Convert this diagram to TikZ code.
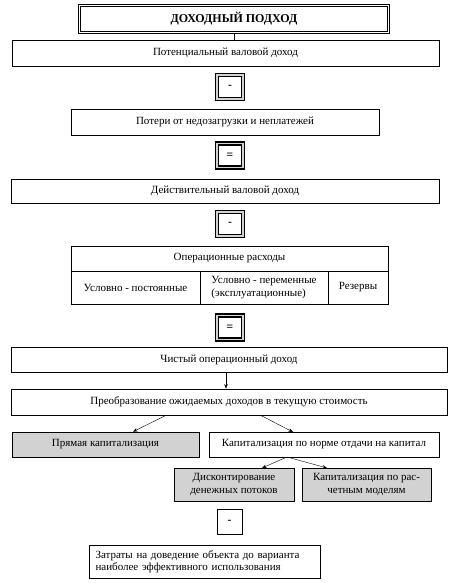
\documentclass[tikz,border=0pt]{standalone}
\usepackage{fontspec}
\setmainfont{Liberation Serif}
\usetikzlibrary{arrows.meta,shadows}
\begin{document}
\begin{tikzpicture}[x=1pt,y=-1pt,
  every node/.style={font=\fontsize{11}{12.5}\selectfont},
  box/.style={draw, line width=0.7pt, fill=white, inner sep=0pt,
    drop shadow={shadow xshift=1pt, shadow yshift=-1pt, fill=gray!60, opacity=1}},
  graybox/.style={box, fill=gray!35},
  opbox/.style={draw=black, line width=1.7pt, double=gray!35, double distance=1.2pt,
    fill=white, minimum width=26pt, minimum height=24pt, inner sep=0pt, font=\fontsize{11.5}{12}\selectfont\bfseries},
  thinop/.style={draw, line width=0.7pt, minimum width=25pt, minimum height=25pt, inner sep=0pt, font=\fontsize{11.5}{12}\selectfont\bfseries},
  cell/.style={draw, line width=0.7pt, inner sep=0pt, align=center},
  arr/.style={-{Stealth[length=4.5pt,width=3.5pt]}, line width=0.4pt}
]
\useasboundingbox (0,0) rectangle (460,583);
\node[draw, line width=0.6pt, double, double distance=1.4pt, minimum width=309pt, minimum height=27pt, inner sep=0pt,
  font=\fontsize{12}{12}\selectfont\bfseries] (title) at (234,19) {ДОХОДНЫЙ ПОДХОД};
\node[box, minimum width=427pt, minimum height=26pt] (pvd) at (225.5,53) {Потенциальный валовой доход};
\draw[line width=0.5pt] (title.south) -- (title.south |- pvd.north);
\node[opbox] (m1) at (230,87) {-};
\node[box, minimum width=308pt, minimum height=26pt] (pot) at (225,122) {Потери от недозагрузки и неплатежей};
\node[opbox] (e1) at (230,155.5) {=};
\node[box, minimum width=428pt, minimum height=24pt] (dvd) at (225,191) {Действительный валовой доход};
\node[opbox] (m2) at (230,224) {\raisebox{-3pt}{-}};
\node[cell, minimum width=317pt, minimum height=25pt] (op) at (229.5,258.5) {Операционные расходы};
\node[cell, minimum width=129pt, minimum height=33pt] (c1) at (135.5,287.5) {Условно - постоянные};
\node[cell, minimum width=128pt, minimum height=33pt, align=left] (c2) at (264,287.5) {Условно - переменные\\(эксплуатационные)};
\node[cell, minimum width=60pt, minimum height=33pt] (c3) at (358,287.5) {Резервы};
\node[opbox] (e2) at (230,327.5) {=};
\node[box, minimum width=436pt, minimum height=25pt] (cod) at (229,359.5) {Чистый операционный доход};
\node[box, minimum width=436pt, minimum height=26pt] (pre) at (229,402) {Преобразование ожидаемых доходов в текущую стоимость};
\draw[arr] (cod.south -| 226,0) -- (pre.north -| 226,0);
\node[graybox, minimum width=187pt, minimum height=25pt] (pk) at (105.5,444.5) {Прямая капитализация};
\node[box, minimum width=230pt, minimum height=25pt] (kn) at (324,444.5) {Капитализация по норме отдачи на капитал};
\draw[arr] ([xshift=-63pt]pre.south) -- ([xshift=27.5pt]pk.north);
\node[coordinate] (a1) at (260,415) {};
\node[coordinate] (a2) at (293,432) {};
\draw[arr] (a1) -- (a2);
\node[graybox, minimum width=120pt, minimum height=33pt, align=center] (dd) at (234,484.5) {Дисконтирование\\денежных потоков};
\node[graybox, minimum width=129pt, minimum height=33pt, align=center] (kr) at (366.5,484.5) {Капитализация по рас-\\четным моделям};
\node[coordinate] (b0) at (287,457) {};
\node[coordinate] (b1) at (262,468) {};
\node[coordinate] (b2) at (327,468) {};
\draw[arr] (b0) -- (b1);
\draw[arr] (b0) -- (b2);
\node[thinop] (m3) at (229.5,521.5) {-};
\node[draw, line width=0.7pt, minimum width=231pt, minimum height=33pt, text width=218pt, inner sep=0pt, align=left] (zat) at (204.5,561.5)
  {Затраты на доведение объекта до варианта\\наиболее эффективного использования};
\end{tikzpicture}
\end{document}
